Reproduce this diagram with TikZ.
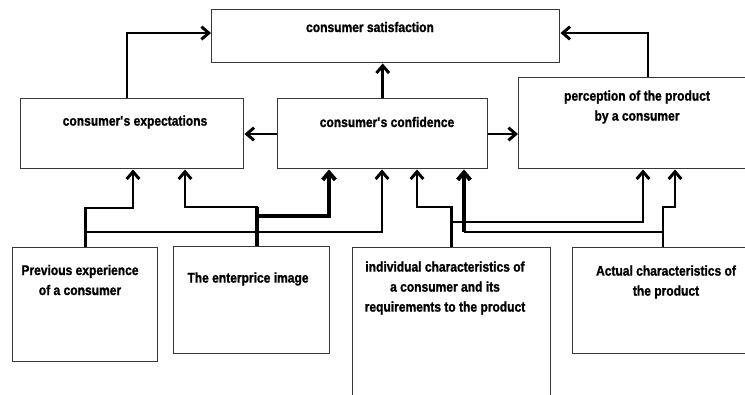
\documentclass[tikz,border=0pt]{standalone}
\usepackage{fontspec}
\setmainfont{Liberation Sans}[FakeStretch=0.86,BoldFeatures={FakeBold=1.2}]
\usepackage{tikz}
\usetikzlibrary{arrows.meta}
\usepackage{xcolor}
\definecolor{boxgray}{RGB}{55,55,55}

\begin{document}
\begin{tikzpicture}[x=0.75pt,y=-0.75pt,
  box/.style={draw=boxgray,line width=1.1pt,anchor=north west,inner sep=0pt},
  lbl/.style={font=\fontsize{10.5}{15}\selectfont\bfseries,align=center,inner sep=0pt},
  arr/.style={line width=2.2pt,-{Straight Barb[length=5.5pt,width=9.5pt]}},
  arrb/.style={arr,line width=3pt}]
 \useasboundingbox (0,0) rectangle (745,394);
 \clip (0,0) rectangle (745,394);

 \node[box,minimum width=261pt,minimum height=39.75pt] (sat) at (211,9) {};
 \node[box,minimum width=167.25pt,minimum height=52.5pt] (exp) at (20,98) {};
 \node[box,minimum width=157.5pt,minimum height=52.5pt] (conf) at (277,98) {};
 \node[box,minimum width=189pt,minimum height=68.25pt] (perc) at (518,77) {};
 \node[box,minimum width=108.75pt,minimum height=85.5pt] (prev) at (12,247) {};
 \node[box,minimum width=117pt,minimum height=80.25pt] (ent) at (173,246) {};
 \node[box,minimum width=148.5pt,minimum height=129.75pt] (ind) at (352,247) {};
 \node[box,minimum width=148.5pt,minimum height=79.5pt] (act) at (572,247) {};

 \node[lbl] (satT) at (370,27) {consumer satisfaction};
 \node[lbl] (expT) at (135,122) {consumer\textquotesingle s expectations};
 \node[lbl] (confT) at (387,122) {consumer\textquotesingle s confidence};
 \node[lbl] (percT) at (637,107) {perception of the product\\by a consumer};
 \node[lbl] (prevT) at (80,280) {Previous experience\\of a consumer};
 \node[lbl] (entT) at (248,279) {The enterprice image};
 \node[lbl] (indT) at (445,288) {individual characteristics of\\a consumer and its\\requirements to the product};
 \node[lbl] (actT) at (666,282) {Actual characteristics of\\the product};

 \coordinate (t1) at (127,33);
 \coordinate (t2) at (648,33);
 \coordinate (s1) at (0,134);
 \draw[arr] (exp.north -| t1) -- (t1) -- (t1 -| sat.west);
 \draw[arr] (conf.north) -- (sat.south -| conf.north);
 \draw[arr] (perc.north -| t2) -- (t2) -- (t2 -| sat.east);
 \draw[arr] (conf.west |- s1) -- (exp.east |- s1);
 \draw[arr] (conf.east |- s1) -- (perc.west |- s1);

 \coordinate (c1) at (133,208);
 \coordinate (c2) at (382,232);
 \draw[arr] (prev.north) |- (c1) -- (c1 |- exp.south);
 \draw[arr] (prev.north |- c2) -- (c2) -- (c2 |- conf.south);

 \coordinate (e1) at (257,207);
 \coordinate (c3) at (185,207);
 \coordinate (c4) at (329,216);
 \draw[arr] (ent.north -| e1) -- (e1) -- (c3) -- (c3 |- exp.south);
 \draw[arrb] (ent.north -| e1) -- (e1) (e1 |- c4) -- (c4) -- (c4 |- conf.south);

 \coordinate (i1) at (417,207);
 \coordinate (i2) at (643,222);
 \draw[arr] (ind.north) |- (i1) -- (i1 |- conf.south);
 \draw[arr] (ind.north |- i2) -- (i2) -- (i2 |- perc.south);

 \coordinate (a1) at (663,207);
 \coordinate (a2) at (675,207);
 \coordinate (a3) at (464,232);
 \draw[arr] (act.north -| a1) -- (a1) -- (a2) -- (a2 |- perc.south);
 \draw[line width=2.2pt] (a1 |- a3) -- (a3);
 \draw[arrb] (a3) -- (a3 |- conf.south);
\end{tikzpicture}
\end{document}
